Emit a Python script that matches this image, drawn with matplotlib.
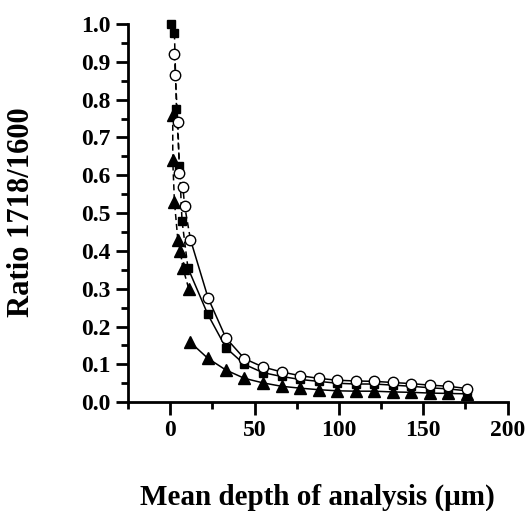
import matplotlib.pyplot as plt
from matplotlib.ticker import MultipleLocator

# open circles
circ_x = [2.5, 3, 4.5, 5.5, 7.5, 8.5, 12, 22.5, 33, 44, 55, 66, 77, 88, 99, 110, 121, 132, 143, 154, 165, 176]
circ_y = [0.92, 0.865, 0.74, 0.605, 0.57, 0.52, 0.43, 0.275, 0.17, 0.115, 0.093, 0.080, 0.070, 0.063, 0.058,
          0.056, 0.055, 0.052, 0.049, 0.045, 0.042, 0.036]

# filled squares
sq_x = [0.5, 2.5, 3.7, 5.5, 7, 10.5, 22.3, 33, 44, 55, 66, 77, 88, 99, 110, 121, 132, 143, 154, 165, 176]
sq_y = [1.0, 0.975, 0.775, 0.625, 0.48, 0.355, 0.232, 0.144, 0.10, 0.078, 0.068, 0.060, 0.055, 0.050,
        0.048, 0.048, 0.045, 0.042, 0.038, 0.035, 0.030]

# filled triangles
tri_x = [1.5, 1.5, 2.5, 4.5, 6, 7.5, 11, 11.5, 22.3, 33, 44, 55, 66, 77, 88, 99, 110, 121, 132, 143, 154, 165, 176]
tri_y = [0.76, 0.64, 0.53, 0.43, 0.40, 0.355, 0.30, 0.16, 0.116, 0.085, 0.063, 0.051, 0.042, 0.037, 0.033,
         0.030, 0.029, 0.029, 0.027, 0.026, 0.024, 0.023, 0.022]

plt.rcParams['font.family'] = ['Liberation Serif', 'DejaVu Serif']
plt.rcParams['font.weight'] = 'bold'

fig = plt.figure(figsize=(5.27, 5.11), dpi=100)
ax = fig.add_axes([0.243, 0.213, 0.72, 0.74])


def draw(xs, ys, split, gap=False, **kw):
    # near-surface part dashed, the rest solid
    end = split if gap else split + 1
    ax.plot(xs[:end], ys[:end], ls=(0, (4, 2.5)), color='black', lw=1.1, zorder=2)
    ax.plot(xs[split:], ys[split:], ls='-', color='black', lw=1.1, zorder=2)
    ax.plot(xs, ys, ls='none', color='black', zorder=3, clip_on=False, **kw)


draw(tri_x, tri_y, 7, gap=True, marker='^', ms=8, mfc='black', mec='black')
draw(sq_x, sq_y, 5, marker='s', ms=6, mfc='black', mec='black')
draw(circ_x, circ_y, 6, marker='o', ms=7.5, mfc='white', mec='black', mew=1.0)

ax.set_xlim(-25, 200)
ax.set_ylim(0, 1.0)
ax.xaxis.set_major_locator(MultipleLocator(50))
ax.xaxis.set_minor_locator(MultipleLocator(25))
ax.yaxis.set_major_locator(MultipleLocator(0.1))
ax.yaxis.set_minor_locator(MultipleLocator(0.05))
ax.yaxis.set_major_formatter(plt.FormatStrFormatter('%.1f'))

for s in ['top', 'right']:
    ax.spines[s].set_visible(False)
for s in ['left', 'bottom']:
    ax.spines[s].set_linewidth(2)

ax.tick_params(axis='both', which='major', direction='out', length=9, width=2, labelsize=17)
ax.tick_params(axis='both', which='minor', direction='out', length=5, width=2)

ax.set_xlabel('Mean depth of analysis (\u03bcm)', fontsize=21, fontweight='bold', va='center')
ax.set_ylabel('Ratio 1718/1600', fontsize=22, fontweight='bold', va='center')
ax.xaxis.set_label_coords(0.5, -0.252)
ax.yaxis.set_label_coords(-0.28, 0.503)

fig.savefig('out.png', dpi=100)
